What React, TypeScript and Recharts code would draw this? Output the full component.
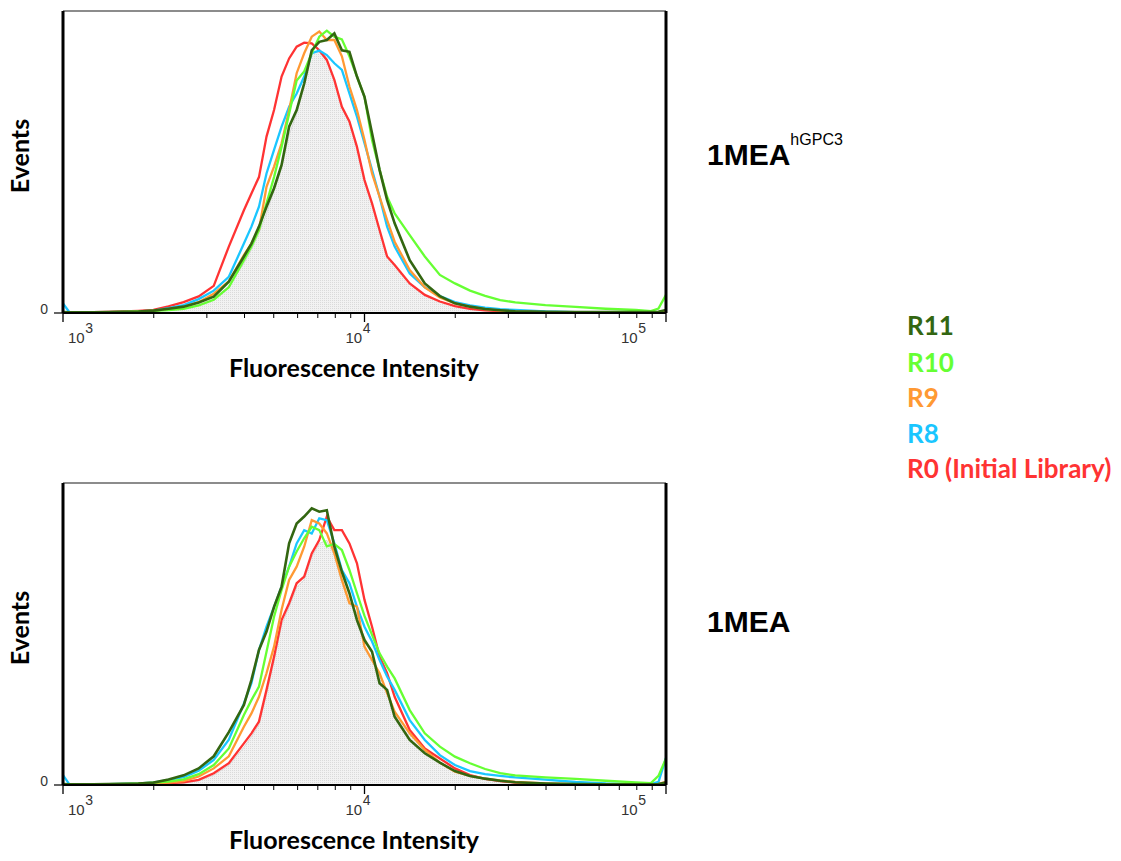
import React from "react";
import { ComposedChart, Line, Area, XAxis, YAxis, ReferenceLine } from "recharts";

// log10(fluorescence intensity) grid
const logIntensity = [
  3.0, 3.02, 3.05, 3.1, 3.15, 3.2, 3.25,
  3.3, 3.35, 3.4, 3.45, 3.5, 3.55,
  3.6, 3.625, 3.65, 3.675, 3.7, 3.725, 3.75, 3.775, 3.8, 3.825, 3.85, 3.875, 3.9, 3.925, 3.95, 3.975, 4.0, 4.025, 4.05, 4.075, 4.1,
  4.15, 4.2, 4.25, 4.3, 4.35, 4.4, 4.45, 4.5,
  4.6, 4.7, 4.8, 4.9, 4.95, 4.975, 5.0,
];

// ---- Top panel: 1MEA hGPC3 ----
const topR0 = [
  0.3, 0.2, 0.2, 0.3, 0.4, 0.5, 0.7,
  1.0, 2.2, 3.6, 5.5, 9, 22,
  34, 39.6, 45, 58.4, 67.2, 78.3, 84.3, 88.2, 89.5, 89.3, 87, 83.8, 77.2, 68.3, 63.4, 55, 44, 36.3, 27.5, 18.7, 15.9,
  9.8, 6, 3.8, 2.3, 1.4, 0.9, 0.6, 0.4,
  0.3, 0.2, 0.2, 0.2, 0.2, 0.2, 0.5,
];
const topR8 = [
  3.2, 0.4, 0.2, 0.2, 0.3, 0.4, 0.5,
  0.8, 1.6, 2.6, 4.6, 7.4, 12,
  23, 28.6, 35.2, 46.2, 54, 61.7, 68.3, 72.7, 78.3, 86, 86.9, 85.4, 82.7, 80.5, 72.7, 65, 56.2, 47.4, 38.5, 28.6, 22,
  13.1, 8.5, 5.6, 3.6, 2.5, 1.8, 1.3, 1.0,
  0.5, 0.3, 0.2, 0.2, 0.2, 0.3, 0.8,
];
const topR9 = [
  0.3, 0.2, 0.2, 0.2, 0.3, 0.4, 0.5,
  0.8, 1.3, 2.0, 3.6, 6.4, 10.5,
  19.2, 23, 27.5, 41.8, 48.5, 56.2, 67.2, 79.4, 86, 91.5, 93.2, 90.4, 90.4, 85, 75, 67.2, 57.3, 46.2, 38.5, 30.8, 23.6,
  14.2, 8.5, 5.1, 3.2, 2.1, 1.3, 0.8, 0.5,
  0.3, 0.2, 0.2, 0.2, 0.2, 0.3, 0.8,
];
const topR10 = [
  0.3, 0.2, 0.2, 0.2, 0.3, 0.4, 0.5,
  0.7, 1.0, 1.4, 2.5, 4.4, 8.5,
  17.5, 22, 27.5, 36.3, 45, 55, 66, 77, 80, 86, 91.5, 93.5, 91.5, 90.6, 85, 78.3, 71.6, 57.3, 47.4, 38.5, 33,
  25.8, 18.7, 12.6, 9.8, 7.4, 5.7, 4.3, 3.5,
  2.6, 2.0, 1.4, 1.0, 0.6, 1.5, 6.0,
];
const topR11 = [
  0.3, 0.2, 0.2, 0.2, 0.3, 0.4, 0.5,
  0.8, 1.4, 2.1, 3.5, 5.4, 10.4,
  18.7, 23, 28.6, 35.2, 41.3, 49, 61.7, 67.2, 76, 87, 89.8, 90.4, 92.6, 87, 86.5, 78.3, 71.6, 59.5, 47.4, 37.4, 29.7,
  17.5, 9.8, 5.6, 3.2, 2.1, 1.3, 0.9, 0.6,
  0.4, 0.3, 0.3, 0.3, 0.3, 0.4, 1.0,
];
const topControl = [
  0, 0, 0, 0, 0.1, 0.2, 0.3,
  0.6, 1.0, 1.5, 2.8, 4.6, 9,
  16.4, 21, 26.4, 33, 40.7, 48, 59, 66, 75, 86, 86.5, 83.5, 77, 68, 63, 55, 44, 36, 27, 18.5, 15.5,
  9.8, 6, 3.8, 2.3, 1.4, 0.9, 0.5, 0.3,
  0, 0, 0, 0, 0, 0, 0,
];

// ---- Bottom panel: 1MEA ----
const botR0 = [
  0.2, 0.2, 0.2, 0.2, 0.2, 0.3, 0.3,
  0.4, 0.6, 0.9, 1.7, 3.9, 7.2,
  13.8, 17.1, 21, 31.5, 42.5, 54.6, 60.2, 66.8, 69, 76.7, 81.1, 88.9, 84.4, 84.4, 80, 73.4, 61.3, 52.4, 42.5, 37, 29.2,
  18.2, 12.1, 8.8, 5.5, 3.3, 2, 1.3, 0.8,
  0.4, 0.2, 0.2, 0.2, 0.2, 0.2, 0.4,
];
const botR8 = [
  3.3, 0.4, 0.2, 0.2, 0.3, 0.4, 0.5,
  0.8, 1.7, 2.6, 4.7, 8.3, 15,
  27, 33.7, 44.7, 52.4, 59, 65.7, 72.3, 80, 84.4, 83.3, 88.3, 87.7, 80, 71.2, 66.8, 59, 52.4, 47.5, 41.4, 35.9, 31.5,
  21.5, 14.9, 9.9, 6.6, 4.6, 3.6, 3.0, 2.5,
  1.8, 1.0, 0.5, 0.3, 0.3, 1.0, 9.0,
];
const botR9 = [
  0.3, 0.2, 0.2, 0.2, 0.2, 0.3, 0.4,
  0.6, 0.8, 1.3, 2.8, 5.5, 9.5,
  19.3, 23.7, 29.2, 37, 45.8, 58, 67.9, 72.3, 78.9, 87.7, 86.6, 83.3, 76.7, 67.9, 60.2, 59, 45.8, 41.4, 37, 30.4, 24.3,
  17.1, 11.6, 7.4, 4.4, 3, 2.1, 1.5, 1.0,
  0.5, 0.3, 0.3, 0.3, 0.3, 0.4, 1.0,
];
const botR10 = [
  0.3, 0.2, 0.2, 0.2, 0.3, 0.4, 0.5,
  0.8, 1.1, 1.9, 3.6, 6.6, 12.1,
  23.2, 28.1, 32.6, 44.1, 55.7, 64.6, 72.3, 77.3, 81.7, 85.5, 84.4, 79, 79.8, 77.8, 71.2, 63.5, 56, 49.7, 43.6, 39.2, 35.3,
  24.8, 17.1, 12.7, 9.4, 7.2, 5.3, 3.9, 3.2,
  2.5, 2.0, 1.4, 0.9, 0.6, 3.0, 8.8,
];
const botR11 = [
  0.3, 0.2, 0.2, 0.2, 0.3, 0.4, 0.5,
  0.8, 1.8, 3.2, 5.5, 9.5, 17.5,
  26.5, 34.8, 44.7, 50.8, 59, 65.7, 80, 86.6, 88.9, 91.6, 90.5, 91, 78.9, 70.6, 63.5, 54.6, 48, 44.1, 33.7, 31.5, 22.6,
  14.9, 10.5, 7.4, 4.6, 3, 2.1, 1.4, 0.9,
  0.5, 0.3, 0.2, 0.2, 0.2, 0.3, 0.8,
];
const botControl = [
  0, 0, 0, 0, 0, 0.1, 0.2,
  0.3, 0.4, 0.6, 1.4, 3.3, 6.5,
  12.5, 16, 20, 30, 41, 53, 59, 65.5, 68, 75.5, 80, 81, 76, 67, 60, 57, 45, 41, 36.5, 30, 24,
  16.8, 11.3, 7.2, 4.3, 2.8, 1.9, 1.2, 0.7,
  0.3, 0, 0, 0, 0, 0, 0,
];

// axis ticks (fluorescence intensity values)
const decades = [1000, 10000];
const multipliers = [1, 2, 3, 4, 5, 6, 7, 8, 9];
const tickIntensities = [...decades.flatMap((d) => multipliers.map((m) => m * d)), 100000];

const seriesNames = ["R11", "R10", "R9", "R8", "R0 (Initial Library)"];
const seriesColors = ["#336611", "#66ff33", "#ff9933", "#1ac6ff", "#ff3333"];
const panelTitles = ["1MEA", "1MEA"];
const panelSuper = ["hGPC3", ""];

const buildRows = (r0: number[], r8: number[], r9: number[], r10: number[], r11: number[], ctl: number[]) =>
  logIntensity.map((x, i) => ({ x, r0: r0[i], r8: r8[i], r9: r9[i], r10: r10[i], r11: r11[i], ctl: ctl[i] }));

const topData = buildRows(topR0, topR8, topR9, topR10, topR11, topControl);
const botData = buildRows(botR0, botR8, botR9, botR10, botR11, botControl);
const xTicks = tickIntensities.map((v) => Math.log10(v));

const XTick = (props: any) => {
  const { x, y, payload } = props;
  const v = payload.value as number;
  const exp = Math.round(v);
  const major = Math.abs(v - exp) < 1e-6;
  if (!major) {
    return <line x1={x} x2={x} y1={y} y2={y + 5} stroke="#000" strokeWidth={1} />;
  }
  const dx = exp === 3 ? 5 : exp === 4 ? -19 : -45;
  return (
    <g>
      <line x1={x} x2={x} y1={y} y2={y + 9} stroke="#000" strokeWidth={1.3} />
      <text x={x + dx} y={y + 30} fontFamily="'Liberation Sans', Arial, sans-serif" fontSize={15} fill="#333">
        10
        <tspan dx={0.5} dy={-10} fontSize={14}>
          {exp}
        </tspan>
      </text>
    </g>
  );
};

const YTick = (props: any) => {
  const { x, y, payload } = props;
  return (
    <g>
      <line x1={x - 9} x2={x} y1={y} y2={y} stroke="#000" strokeWidth={1.2} />
      <text x={x - 15} y={y + 0.5} textAnchor="end" fontFamily="'Liberation Sans', Arial, sans-serif" fontSize={14} fill="#333">
        {payload.value}
      </text>
    </g>
  );
};

const Panel = ({ data, top, pid }: { data: any[]; top: number; pid: string }) => (
  <div style={{ position: "absolute", left: 0, top, width: 700, height: 400 }}>
    <ComposedChart width={700} height={400} data={data} margin={{ top: 11, right: 34, bottom: 47, left: 23 }}>
      <defs>
        <pattern id={pid} width="2" height="2" patternUnits="userSpaceOnUse">
          <rect width="2" height="2" fill="#f2f2f2" />
          <rect width="1" height="1" fill="#dadada" />
        </pattern>
      </defs>
      <XAxis
        dataKey="x"
        type="number"
        domain={[3, 5]}
        ticks={xTicks}
        interval={0}
        tick={<XTick />}
        tickLine={false}
        tickSize={0}
        tickMargin={0}
        axisLine={{ stroke: "#000", strokeWidth: 2 }}
        height={40}
        allowDataOverflow
      />
      <YAxis
        type="number"
        domain={[0, 100]}
        ticks={[0]}
        width={40}
        tick={<YTick />}
        tickLine={false}
        tickSize={0}
        tickMargin={0}
        axisLine={{ stroke: "#000", strokeWidth: 3 }}
        allowDataOverflow
      />
      <ReferenceLine y={100} stroke="#666" strokeWidth={1.5} />
      <Area type="linear" dataKey="ctl" fill={`url(#${pid})`} fillOpacity={1} stroke="#cfcfcf" strokeWidth={0.8} dot={false} activeDot={false} isAnimationActive={false} />
      <Line type="linear" dataKey="r0" stroke={seriesColors[4]} strokeWidth={2.3} dot={false} activeDot={false} isAnimationActive={false} />
      <Line type="linear" dataKey="r8" stroke={seriesColors[3]} strokeWidth={2.3} dot={false} activeDot={false} isAnimationActive={false} />
      <Line type="linear" dataKey="r9" stroke={seriesColors[2]} strokeWidth={2.3} dot={false} activeDot={false} isAnimationActive={false} />
      <Line type="linear" dataKey="r10" stroke={seriesColors[1]} strokeWidth={2.3} dot={false} activeDot={false} isAnimationActive={false} />
      <Line type="linear" dataKey="r11" stroke={seriesColors[0]} strokeWidth={2.6} dot={false} activeDot={false} isAnimationActive={false} />
      <ReferenceLine x={5} stroke="#000" strokeWidth={3} />
    </ComposedChart>
  </div>
);

const labelFont = "Lato, 'Open Sans', sans-serif";

export default function App() {
  const legendBaselines = [335, 372, 407, 443, 478];
  return (
    <div style={{ position: "absolute", left: 0, top: 0, width: 1121, height: 861, background: "#fff" }}>
      <Panel data={topData} top={0} pid="dotsTop" />
      <Panel data={botData} top={472} pid="dotsBot" />
      <svg width={1121} height={861} style={{ position: "absolute", left: 0, top: 0, pointerEvents: "none" }}>
        {[0, 472].map((off, i) => (
          <g key={i}>
            <text transform={`translate(29,${156 + off}) rotate(-90)`} textAnchor="middle" fontFamily={labelFont} fontWeight={700} fontSize={25} fill="#000">
              Events
            </text>
            <text x={354} y={377 + off} textAnchor="middle" fontFamily={labelFont} fontWeight={700} fontSize={25} fill="#000">
              Fluorescence Intensity
            </text>
            <text x={707} y={i === 0 ? 165 : 632} fontFamily="'Liberation Sans', Arial, sans-serif" fontWeight={700} fontSize={30} fill="#000">
              {panelTitles[i]}
              {panelSuper[i] ? (
                <tspan dy={-20} fontSize={16} fontWeight={400}>
                  {panelSuper[i]}
                </tspan>
              ) : null}
            </text>
          </g>
        ))}
        {seriesNames.map((n, i) => (
          <text key={n} x={907} y={legendBaselines[i]} fontFamily={labelFont} fontWeight={700} fontSize={26} fill={seriesColors[i]}>
            {n}
          </text>
        ))}
      </svg>
    </div>
  );
}
